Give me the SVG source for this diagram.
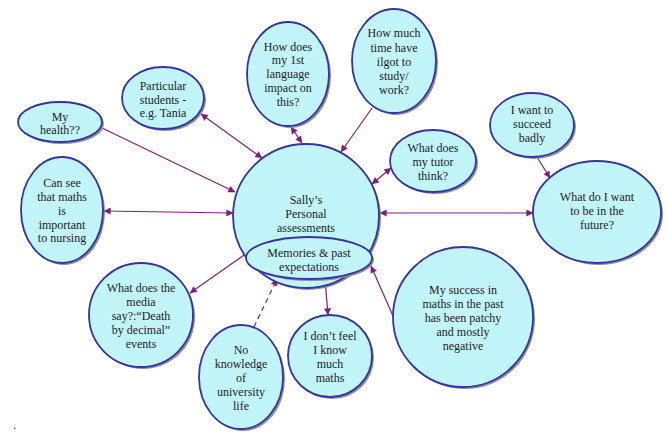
<svg xmlns="http://www.w3.org/2000/svg" width="667" height="442" viewBox="0 0 667 442" font-family="'Liberation Serif', serif">
<defs>
<marker id="a" viewBox="0 0 10 10" refX="9.5" refY="5" markerWidth="9" markerHeight="7" markerUnits="userSpaceOnUse" orient="auto-start-reverse">
<path d="M0,0 L10,5 L0,10 Z" fill="#7d1f78"/>
</marker>
</defs>
<style>
.sh{fill:#8c8c9c;stroke:none}
.nd{fill:#c2f5fa;stroke:#35359c;stroke-width:1.8}
.t{font-family:'Liberation Serif',serif;font-size:12px;fill:#222;text-anchor:middle}
.c{fill:none;stroke:#7d1f78;stroke-width:1.2}
.d{stroke-dasharray:5,4}
</style>
<rect width="667" height="442" fill="#ffffff"/>
<g id="connectors">
<line class="c" x1="102" y1="128" x2="235" y2="192" marker-end="url(#a)"/>
<line class="c" x1="201" y1="114" x2="262" y2="158" marker-start="url(#a)" marker-end="url(#a)"/>
<line class="c" x1="291" y1="127" x2="302" y2="143" marker-start="url(#a)" marker-end="url(#a)"/>
<line class="c" x1="372" y1="108" x2="341" y2="152" marker-end="url(#a)"/>
<line class="c" x1="391" y1="168" x2="372" y2="184" marker-start="url(#a)" marker-end="url(#a)"/>
<line class="c" x1="537" y1="157" x2="550" y2="178" marker-end="url(#a)"/>
<line class="c" x1="380" y1="213" x2="533" y2="213" marker-start="url(#a)" marker-end="url(#a)"/>
<line class="c" x1="104" y1="211" x2="233" y2="213" marker-start="url(#a)" marker-end="url(#a)"/>
<line class="c" x1="247" y1="253" x2="190" y2="293" marker-end="url(#a)"/>
<line class="c d" x1="254" y1="327" x2="277" y2="279" marker-end="url(#a)"/>
<line class="c" x1="325" y1="279" x2="328" y2="315" marker-start="url(#a)" marker-end="url(#a)"/>
<line class="c" x1="393" y1="316" x2="371" y2="266" marker-end="url(#a)"/>
</g>
<g id="center">
<ellipse class="sh" cx="308" cy="218" rx="73" ry="72"/>
<ellipse class="nd" cx="306" cy="216" rx="73" ry="72"/>
<text class="t"><tspan x="306" y="204">Sally’s</tspan><tspan x="306" y="218">Personal</tspan><tspan x="306" y="232">assessments</tspan></text>
</g>
<g id="memories">
<ellipse class="sh" cx="311" cy="260" rx="63" ry="21"/>
<ellipse class="nd" cx="309" cy="258" rx="63" ry="21"/>
<text class="t"><tspan x="309" y="257">Memories &amp; past</tspan><tspan x="309" y="271">expectations</tspan></text>
</g>
<g id="health">
<ellipse class="sh" cx="62" cy="124" rx="42" ry="20"/>
<ellipse class="nd" cx="60" cy="122" rx="42" ry="20"/>
<text class="t"><tspan x="60" y="121">My</tspan><tspan x="60" y="134">health??</tspan></text>
</g>
<g id="particular">
<ellipse class="sh" cx="165" cy="100" rx="41" ry="31"/>
<ellipse class="nd" cx="163" cy="98" rx="41" ry="31"/>
<text class="t"><tspan x="163" y="90">Particular</tspan><tspan x="163" y="104">students -</tspan><tspan x="163" y="117">e.g. Tania</tspan></text>
</g>
<g id="language">
<ellipse class="sh" cx="290" cy="76" rx="41" ry="52"/>
<ellipse class="nd" cx="288" cy="74" rx="41" ry="52"/>
<text class="t"><tspan x="288" y="51">How does</tspan><tspan x="288" y="64">my 1st</tspan><tspan x="288" y="78">language</tspan><tspan x="288" y="92">impact on</tspan><tspan x="288" y="106">this?</tspan></text>
</g>
<g id="time">
<ellipse class="sh" cx="396" cy="63" rx="42" ry="52"/>
<ellipse class="nd" cx="394" cy="61" rx="42" ry="52"/>
<text class="t"><tspan x="394" y="37">How much</tspan><tspan x="394" y="52">time have</tspan><tspan x="394" y="66">ilgot to</tspan><tspan x="394" y="80">study/</tspan><tspan x="394" y="94">work?</tspan></text>
</g>
<g id="tutor">
<ellipse class="sh" cx="435" cy="163" rx="43" ry="31"/>
<ellipse class="nd" cx="433" cy="161" rx="43" ry="31"/>
<text class="t"><tspan x="433" y="152">What does</tspan><tspan x="433" y="166">my tutor</tspan><tspan x="433" y="180">think?</tspan></text>
</g>
<g id="succeed">
<ellipse class="sh" cx="534" cy="127" rx="42" ry="32"/>
<ellipse class="nd" cx="532" cy="125" rx="42" ry="32"/>
<text class="t"><tspan x="532" y="114">I want to</tspan><tspan x="532" y="128">succeed</tspan><tspan x="532" y="142">badly</tspan></text>
</g>
<g id="future">
<ellipse class="sh" cx="599" cy="214" rx="64" ry="51"/>
<ellipse class="nd" cx="597" cy="212" rx="64" ry="51"/>
<text class="t"><tspan x="597" y="201">What do I want</tspan><tspan x="597" y="215">to be in the</tspan><tspan x="597" y="229">future?</tspan></text>
</g>
<g id="cansee">
<ellipse class="sh" cx="64" cy="212" rx="41" ry="53"/>
<ellipse class="nd" cx="62" cy="210" rx="41" ry="53"/>
<text class="t"><tspan x="62" y="187">Can see</tspan><tspan x="62" y="201">that maths</tspan><tspan x="62" y="215">is</tspan><tspan x="62" y="229">important</tspan><tspan x="62" y="242">to nursing</tspan></text>
</g>
<g id="media">
<ellipse class="sh" cx="143" cy="317" rx="52" ry="52"/>
<ellipse class="nd" cx="141" cy="315" rx="52" ry="52"/>
<text class="t"><tspan x="141" y="292">What does the</tspan><tspan x="141" y="306">media</tspan><tspan x="141" y="320">say?:“Death</tspan><tspan x="141" y="334">by decimal”</tspan><tspan x="141" y="348">events</tspan></text>
</g>
<g id="noknowledge">
<ellipse class="sh" cx="243" cy="379" rx="42" ry="52"/>
<ellipse class="nd" cx="241" cy="377" rx="42" ry="52"/>
<text class="t"><tspan x="241" y="354">No</tspan><tspan x="241" y="368">knowledge</tspan><tspan x="241" y="382">of</tspan><tspan x="241" y="396">university</tspan><tspan x="241" y="410">life</tspan></text>
</g>
<g id="dontfeel">
<ellipse class="sh" cx="332" cy="358" rx="42" ry="41"/>
<ellipse class="nd" cx="330" cy="356" rx="42" ry="41"/>
<text class="t"><tspan x="330" y="340">I don’t feel</tspan><tspan x="330" y="354">I know</tspan><tspan x="330" y="368">much</tspan><tspan x="330" y="382">maths</tspan></text>
</g>
<g id="success">
<ellipse class="sh" cx="465" cy="319" rx="70" ry="70"/>
<ellipse class="nd" cx="463" cy="317" rx="70" ry="70"/>
<text class="t"><tspan x="463" y="294">My success in</tspan><tspan x="463" y="308">maths in the past</tspan><tspan x="463" y="322">has been patchy</tspan><tspan x="463" y="336">and mostly</tspan><tspan x="463" y="350">negative</tspan></text>
</g>
<text x="13" y="429" font-family="'Liberation Sans', sans-serif" font-size="12" fill="#222">.</text>
</svg>
